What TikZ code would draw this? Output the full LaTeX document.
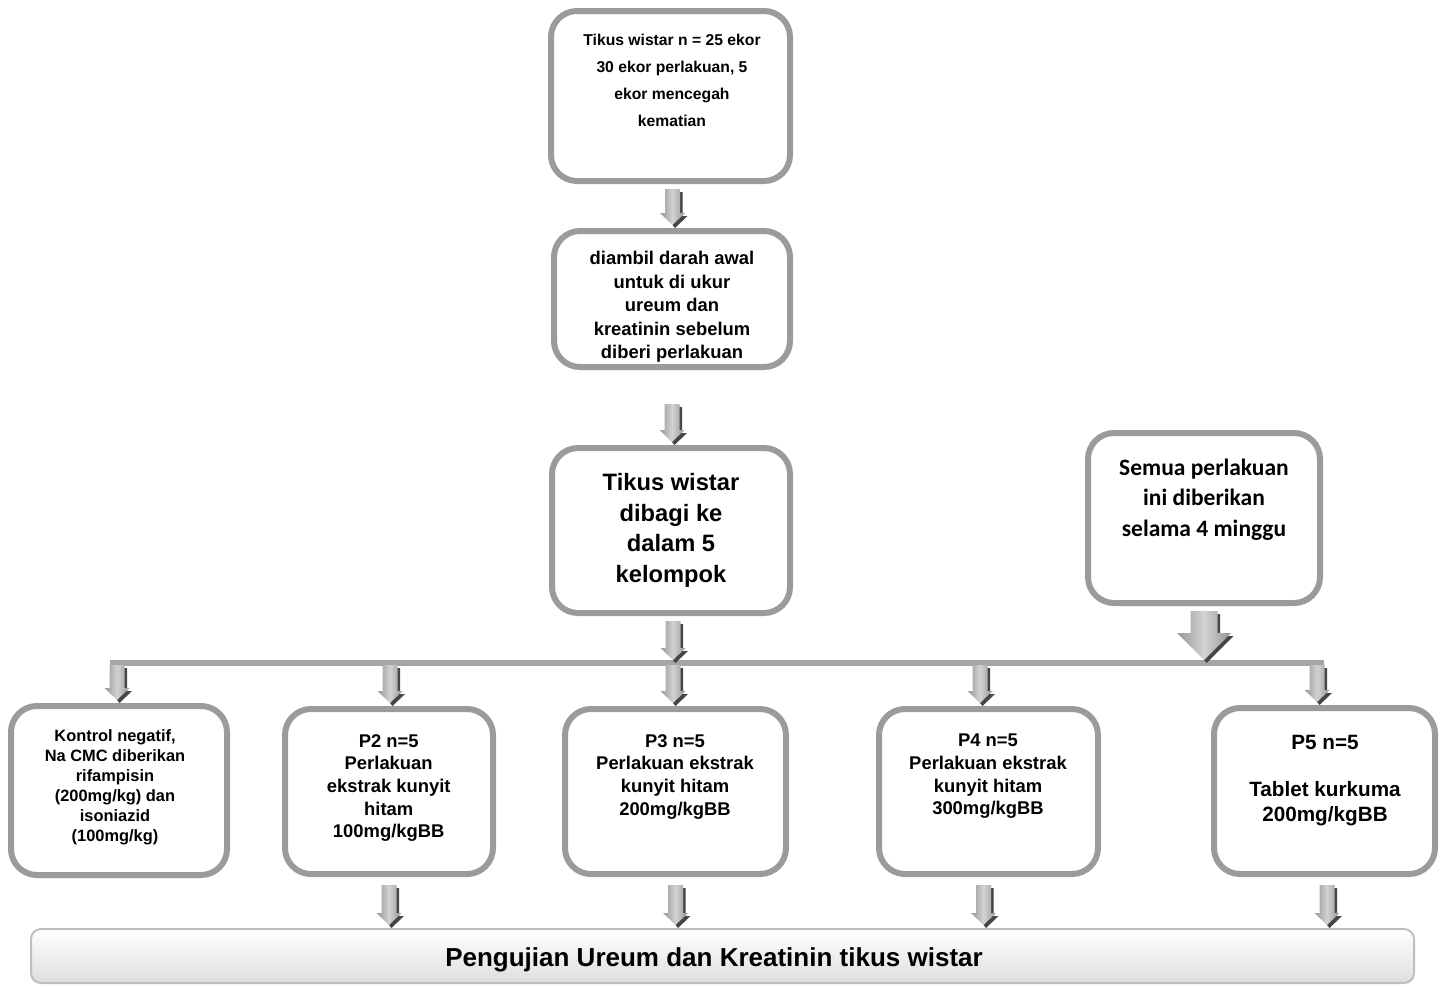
\documentclass[tikz,border=0pt]{standalone}
\usepackage{fontspec}
\setmainfont{Liberation Sans}
\newfontfamily\calfont{Carlito}
\usetikzlibrary{calc}
\definecolor{boxgray}{RGB}{155,155,155}
\definecolor{linegray}{RGB}{165,165,165}
\definecolor{arrowdark}{RGB}{70,70,70}
\definecolor{arrowedge}{RGB}{150,150,150}
\definecolor{arrowmid}{RGB}{210,210,210}
\definecolor{barborder}{RGB}{190,190,190}
\definecolor{barbottom}{RGB}{222,222,222}
% #1 start point, #2 end point, #3 shaft half width, #4 head half width, #5 head length, #6 max length
\newcommand{\grayarrow}[6]{%
  \fill[arrowdark] let \p1=#1, \p2=#2, \p3=(0pt,{min(\y1,\y2+3pt+#6)}) in
    (\x1,\y3-3pt) -- (\x1+#3+2.5pt,\y3-3pt) -- (\x1+#3+2.5pt,\y2+#5) --
    (\x1+#4+2.5pt,\y2+#5) -- (\x1+2.5pt,\y2) -- (\x1,\y2+3pt) -- cycle;
  \path[left color=arrowedge,right color=arrowedge,middle color=arrowmid]
    let \p1=#1, \p2=#2, \p3=(0pt,{min(\y1,\y2+3pt+#6)}) in
    (\x1-#3,\y3) -- (\x1+#3,\y3) -- (\x1+#3,\y2+#5+3pt) --
    (\x1+#4,\y2+#5+3pt) -- (\x1,\y2+3pt) -- (\x1-#4,\y2+#5+3pt) -- (\x1-#3,\y2+#5+3pt) -- cycle;
}
\begin{document}
\begin{tikzpicture}[x=1pt,y=-1pt,
  bx/.style={draw=boxgray,line width=6pt,rounded corners=26pt,fill=white,inner sep=0pt},
  txt/.style={align=center,inner sep=0pt,anchor=north}]
\useasboundingbox (0,0) rectangle (1446,986);

% boxes
\node[bx,minimum width=239pt,minimum height=170pt] (b1) at (670.5,96) {};
\node[bx,minimum width=236pt,minimum height=136pt] (b2) at (672,299) {};
\node[bx,minimum width=238pt,minimum height=165pt] (b3) at (671,530.5) {};
\node[bx,minimum width=232pt,minimum height=170pt] (sem) at (1204,518) {};
\node[bx,minimum width=216pt,minimum height=169pt] (k) at (119,790.5) {};
\node[bx,minimum width=208pt,minimum height=165pt] (p2) at (389,791.5) {};
\node[bx,minimum width=221pt,minimum height=165pt] (p3) at (675.5,791.5) {};
\node[bx,minimum width=219pt,minimum height=165pt] (p4) at (988.5,791.5) {};
\node[bx,minimum width=221pt,minimum height=166pt] (p5) at (1324.5,791) {};
\node[draw=barborder,line width=2pt,rounded corners=10pt,top color=white,bottom color=barbottom,
      minimum width=1383pt,minimum height=54pt,inner sep=0pt] (bar) at (722.5,956) {};

% texts
\node[txt,font=\fontsize{15.7}{27}\selectfont\bfseries] (t1) at (672,34.2)
  {Tikus wistar n = 25 ekor\\30 ekor perlakuan, 5\\ekor mencegah\\kematian};
\node[txt,font=\fontsize{18.4}{23.5}\selectfont\bfseries] (t2) at (672,251.2)
  {diambil darah awal\\untuk di ukur\\ureum dan\\kreatinin sebelum\\diberi perlakuan};
\node[txt,font=\fontsize{23.7}{30.5}\selectfont\bfseries] (t3) at (671,473.5)
  {Tikus wistar\\dibagi ke\\dalam 5\\kelompok};
\node[txt,font=\fontsize{23.5}{30.5}\selectfont\calfont\bfseries] (ts) at (1204,458.5)
  {Semua perlakuan\\ini diberikan\\selama 4 minggu};
\node[txt,font=\fontsize{16.4}{20}\selectfont\bfseries] (tk) at (115,729)
  {Kontrol negatif,\\Na CMC diberikan\\rifampisin\\(200mg/kg) dan\\isoniazid\\(100mg/kg)};
\node[txt,font=\fontsize{18.4}{22.7}\selectfont\bfseries] (tp2) at (388.7,734)
  {P2 n=5\\Perlakuan\\ekstrak kunyit\\hitam\\100mg/kgBB};
\node[txt,font=\fontsize{18.4}{22.7}\selectfont\bfseries] (tp3) at (675,734)
  {P3 n=5\\Perlakuan ekstrak\\kunyit hitam\\200mg/kgBB};
\node[txt,font=\fontsize{18.4}{22.7}\selectfont\bfseries] (tp4) at (988,734)
  {P4 n=5\\Perlakuan ekstrak\\kunyit hitam\\300mg/kgBB};
\node[txt,font=\fontsize{20.7}{25}\selectfont\bfseries] (tp5) at (1325,735)
  {P5 n=5\\[22pt]Tablet kurkuma\\200mg/kgBB};
\node[anchor=base,inner sep=0pt,font=\fontsize{26}{30}\selectfont\bfseries] (tb) at (714,966.4)
  {Pengujian Ureum dan Kreatinin tikus wistar};

% horizontal distribution line
\coordinate (hl) at (110,663);
\coordinate (hr) at (1324,663);
\draw[linegray,line width=6pt] (hl) -- (hr);
\coordinate (hc) at (673,663);
\coordinate (hs) at (1204,663);
\coordinate (a1) at (117,665);
\coordinate (a2) at (390,665);
\coordinate (a3) at (673,665);
\coordinate (a4) at (980,665);
\coordinate (a5) at (1317,665);

% arrows
\grayarrow{([yshift=-5pt,xshift=2pt]b1.south)}{(b2.north)}{7.5pt}{12.5pt}{12pt}{40pt}
\grayarrow{([yshift=-5pt]b2.south)}{(b3.north)}{7.5pt}{12.5pt}{12pt}{38pt}
\grayarrow{([yshift=-5pt,xshift=2pt]b3.south)}{(hc)}{7.5pt}{12.5pt}{12pt}{40pt}
\grayarrow{([yshift=-5pt]sem.south)}{(hs)}{13.5pt}{27pt}{27pt}{60pt}
\grayarrow{(a1)}{(k.north)}{7.5pt}{12.5pt}{12pt}{40pt}
\grayarrow{(a2)}{(p2.north)}{7.5pt}{12.5pt}{12pt}{40pt}
\grayarrow{(a3)}{(p3.north)}{7.5pt}{12.5pt}{12pt}{40pt}
\grayarrow{(a4)}{(p4.north)}{7.5pt}{12.5pt}{12pt}{40pt}
\grayarrow{(a5)}{(p5.north)}{7.5pt}{12.5pt}{12pt}{40pt}
\grayarrow{([yshift=-5pt]p2.south)}{(bar.north)}{7.5pt}{12.5pt}{12pt}{40pt}
\grayarrow{([yshift=-5pt]p3.south)}{(bar.north)}{7.5pt}{12.5pt}{12pt}{40pt}
\grayarrow{([yshift=-5pt,xshift=-5pt]p4.south)}{(bar.north)}{7.5pt}{12.5pt}{12pt}{40pt}
\grayarrow{([yshift=-5pt,xshift=2.5pt]p5.south)}{(bar.north)}{7.5pt}{12.5pt}{12pt}{40pt}
\end{tikzpicture}
\end{document}
